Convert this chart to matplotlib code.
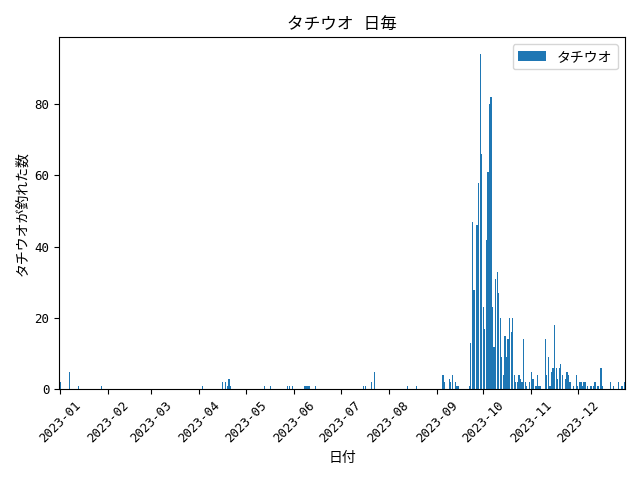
import matplotlib
matplotlib.use("Agg")
import matplotlib.pyplot as plt
import matplotlib.dates as mdates
import pandas as pd

plt.rcParams['font.family'] = ['DejaVu Sans Mono', 'Noto Sans CJK JP']

# daily catch counts (days with no catch are left out)
dates = [
    '2023-01-01', '2023-01-07', '2023-01-13', '2023-01-28',
    '2023-04-03', '2023-04-16', '2023-04-18', '2023-04-19', '2023-04-20', '2023-04-21',
    '2023-05-13', '2023-05-17', '2023-05-28', '2023-05-29', '2023-05-31',
    '2023-06-08', '2023-06-09', '2023-06-10', '2023-06-11', '2023-06-15',
    '2023-07-16', '2023-07-17', '2023-07-21', '2023-07-23',
    '2023-08-13', '2023-08-19',
    '2023-09-05', '2023-09-06', '2023-09-09', '2023-09-10', '2023-09-11', '2023-09-13',
    '2023-09-14', '2023-09-15', '2023-09-22', '2023-09-23', '2023-09-24', '2023-09-25',
    '2023-09-27', '2023-09-28', '2023-09-29', '2023-09-30',
    '2023-10-01', '2023-10-02', '2023-10-03', '2023-10-04', '2023-10-05', '2023-10-06',
    '2023-10-07', '2023-10-08', '2023-10-09', '2023-10-10', '2023-10-11', '2023-10-12',
    '2023-10-13', '2023-10-14', '2023-10-15', '2023-10-16', '2023-10-17', '2023-10-18',
    '2023-10-19', '2023-10-20', '2023-10-21', '2023-10-22', '2023-10-23', '2023-10-24',
    '2023-10-25', '2023-10-26', '2023-10-27', '2023-10-28', '2023-10-29', '2023-10-31',
    '2023-11-01', '2023-11-02', '2023-11-04', '2023-11-05', '2023-11-06', '2023-11-07',
    '2023-11-10', '2023-11-11', '2023-11-12', '2023-11-13', '2023-11-14', '2023-11-15',
    '2023-11-16', '2023-11-17', '2023-11-18', '2023-11-19', '2023-11-20', '2023-11-21',
    '2023-11-23', '2023-11-24', '2023-11-25', '2023-11-26', '2023-11-28', '2023-11-30',
    '2023-12-01', '2023-12-02', '2023-12-03', '2023-12-04', '2023-12-05', '2023-12-06',
    '2023-12-07', '2023-12-09', '2023-12-10', '2023-12-11', '2023-12-12', '2023-12-14',
    '2023-12-16', '2023-12-17', '2023-12-22', '2023-12-24', '2023-12-27', '2023-12-29',
    '2023-12-30', '2023-12-31',
]
counts = [
    2, 5, 1, 1,
    1, 2, 2, 1, 3, 1,
    1, 1, 1, 1, 1,
    1, 1, 1, 1, 1,
    1, 1, 2, 5,
    1, 1,
    4, 2, 3, 2, 4, 2,
    1, 1, 1, 13, 47, 28,
    46, 58, 94, 66,
    23, 17, 42, 61, 80, 82,
    23, 12, 31, 33, 27, 20,
    9, 4, 15, 9, 14, 20,
    16, 20, 4, 2, 2, 4,
    3, 2, 14, 2, 1, 2,
    5, 3, 1, 4, 1, 1,
    14, 4, 9, 1, 5, 6,
    18, 6, 3, 6, 7, 4,
    3, 5, 4, 2, 1, 4,
    1, 2, 2, 1, 2, 2,
    1, 1, 1, 1, 2, 1,
    6, 1, 2, 1, 2, 1,
    1, 2,
]

fish = 'タチウオ'
x = pd.to_datetime(dates)

fig, ax = plt.subplots(figsize=(6.4, 4.8), dpi=100)
ax.bar(x, counts, width=0.8, label=fish)
ax.margins(x=0)
ax.xaxis.set_major_locator(mdates.MonthLocator())
ax.xaxis.set_major_formatter(mdates.DateFormatter('%Y-%m'))
ax.tick_params(labelsize=9)
plt.xticks(rotation=45)
ax.set_title(fish + ' 日毎')
ax.set_xlabel('日付')
ax.set_ylabel(fish + 'が釣れた数')
ax.legend()
fig.tight_layout()
fig.savefig('out.png')
